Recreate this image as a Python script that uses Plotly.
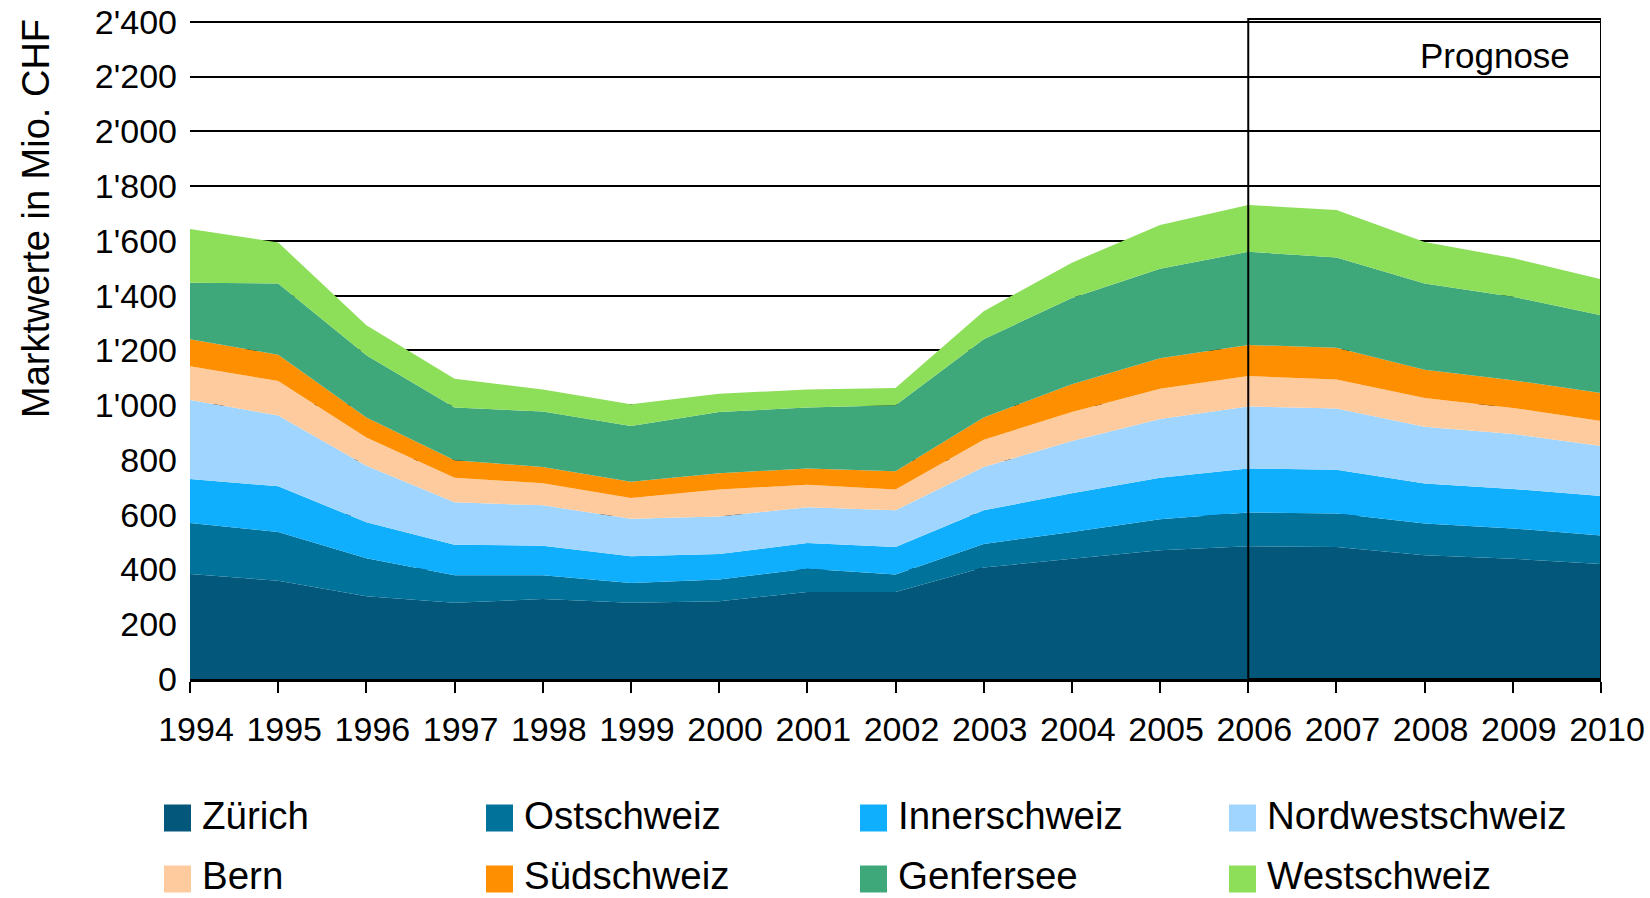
import plotly.graph_objects as go

years = list(range(1994, 2011))

regions = ["Zürich", "Ostschweiz", "Innerschweiz", "Nordwestschweiz",
           "Bern", "Südschweiz", "Genfersee", "Westschweiz"]

zuerich         = [383, 359, 302, 278, 292, 278, 284, 318, 318, 407, 439, 470, 485, 482, 452, 439, 420]
ostschweiz      = [187, 178, 139, 101,  87,  73,  79,  85,  64,  86,  98, 113, 123, 122, 116, 111, 104]
innerschweiz    = [160, 167, 131, 111, 108,  97,  93,  94, 100, 123, 141, 152, 161, 160, 146, 144, 144]
nordwestschweiz = [289, 258, 207, 155, 147, 137, 137, 130, 134, 158, 191, 214, 226, 224, 207, 201, 183]
bern            = [123, 126, 103,  90,  81,  76,  99,  82,  76, 100, 106, 111, 111, 106, 105,  95,  91]
suedschweiz     = [ 99,  96,  73,  64,  59,  59,  59,  60,  67,  81, 101, 111, 114, 116, 103, 101, 102]
genfersee       = [206, 260, 227, 192, 203, 204, 224, 222, 241, 286, 315, 327, 340, 329, 315, 305, 284]
westschweiz     = [196, 150, 110, 105,  80,  79,  67,  66,  63, 102, 129, 160, 171, 174, 152, 141, 132]

series = [zuerich, ostschweiz, innerschweiz, nordwestschweiz,
          bern, suedschweiz, genfersee, westschweiz]

colors = ["#03577A", "#01739A", "#10AFFE", "#9FD5FE",
          "#FECB9F", "#FE8F00", "#3FA87B", "#8DDF59"]

y_ticks = list(range(0, 2401, 200))
y_ticktext = [f"{v:,}".replace(",", "'") for v in y_ticks]

forecast_start = 2006
forecast_end = 2010

FONT = "Liberation Sans, Arial, sans-serif"

W, H = 1650, 898
L, R, T, B = 190, 49, 19, 219
PW, PH = W - L - R, H - T - B


def px_x(px):
    return (px - L) / PW


def px_y(py):
    return (H - B - py) / PH


fig = go.Figure()
for name, vals, col in zip(regions, series, colors):
    fig.add_trace(go.Scatter(
        x=years, y=vals, name=name, stackgroup="one",
        mode="lines", line=dict(width=0, color=col),
        fillcolor=col, showlegend=False, hoverinfo="x+y+name",
    ))

# Prognose box
fig.add_shape(type="rect", xref="x", yref="paper",
              x0=forecast_start, x1=forecast_end, y0=0, y1=1.0,
              line=dict(color="black", width=2), layer="above")
fig.add_annotation(text="Prognose", xref="paper", yref="paper",
                   x=px_x(1572), y=px_y(55), xanchor="right", yanchor="middle",
                   showarrow=False, font=dict(family=FONT, size=35, color="black"))

# Y axis title
fig.add_annotation(text="Marktwerte in Mio. CHF", xref="paper", yref="paper",
                   x=px_x(36), y=px_y(219), textangle=-90,
                   xanchor="center", yanchor="middle", showarrow=False,
                   font=dict(family=FONT, size=38, color="black"))

# Custom legend (2 rows x 4 columns)
col_sq = [164, 486, 860, 1229]
row_cy = [818, 879]
sq = 27
for i, (name, col) in enumerate(zip(regions, colors)):
    r, c = divmod(i, 4)
    x0 = col_sq[c]
    cy = row_cy[r]
    fig.add_shape(type="rect", xref="paper", yref="paper",
                  x0=px_x(x0), x1=px_x(x0 + sq),
                  y0=px_y(cy + sq / 2), y1=px_y(cy - sq / 2),
                  fillcolor=col, line=dict(width=0))
    fig.add_annotation(text=name, xref="paper", yref="paper",
                       x=px_x(x0 + sq + 9), y=px_y(cy - 3),
                       xanchor="left", yanchor="middle", showarrow=False,
                       font=dict(family=FONT, size=38.5, color="black"))

fig.update_layout(
    template="none",
    width=W, height=H,
    margin=dict(l=L, r=R, t=T, b=B, autoexpand=False),
    paper_bgcolor="white", plot_bgcolor="white",
    font=dict(family=FONT, size=34, color="black"),
    showlegend=False,
)
fig.update_xaxes(
    range=[years[0], years[-1]], tickmode="array", tickvals=years,
    ticktext=[str(y) for y in years], automargin=False,
    ticks="outside", ticklen=11, tickwidth=2, tickcolor="black",
    showline=True, linecolor="black", linewidth=3,
    showgrid=False, zeroline=False, tickangle=0,
    ticklabelstandoff=7, ticklabelshift=6,
    tickfont=dict(family=FONT, size=34, color="black"),
)
fig.update_yaxes(
    range=[0, 2410], tickmode="array", tickvals=y_ticks, ticktext=y_ticktext,
    showgrid=True, gridcolor="black", gridwidth=2, automargin=False,
    zeroline=False, showline=False, ticks="",
    ticklabelstandoff=12, ticklabeloverflow="allow",
    tickfont=dict(family=FONT, size=34, color="black"),
)

fig.write_html(
    "out.html",
    config={"displayModeBar": False},
    post_script="document.body.style.margin='0';document.body.style.overflow='hidden';",
)
